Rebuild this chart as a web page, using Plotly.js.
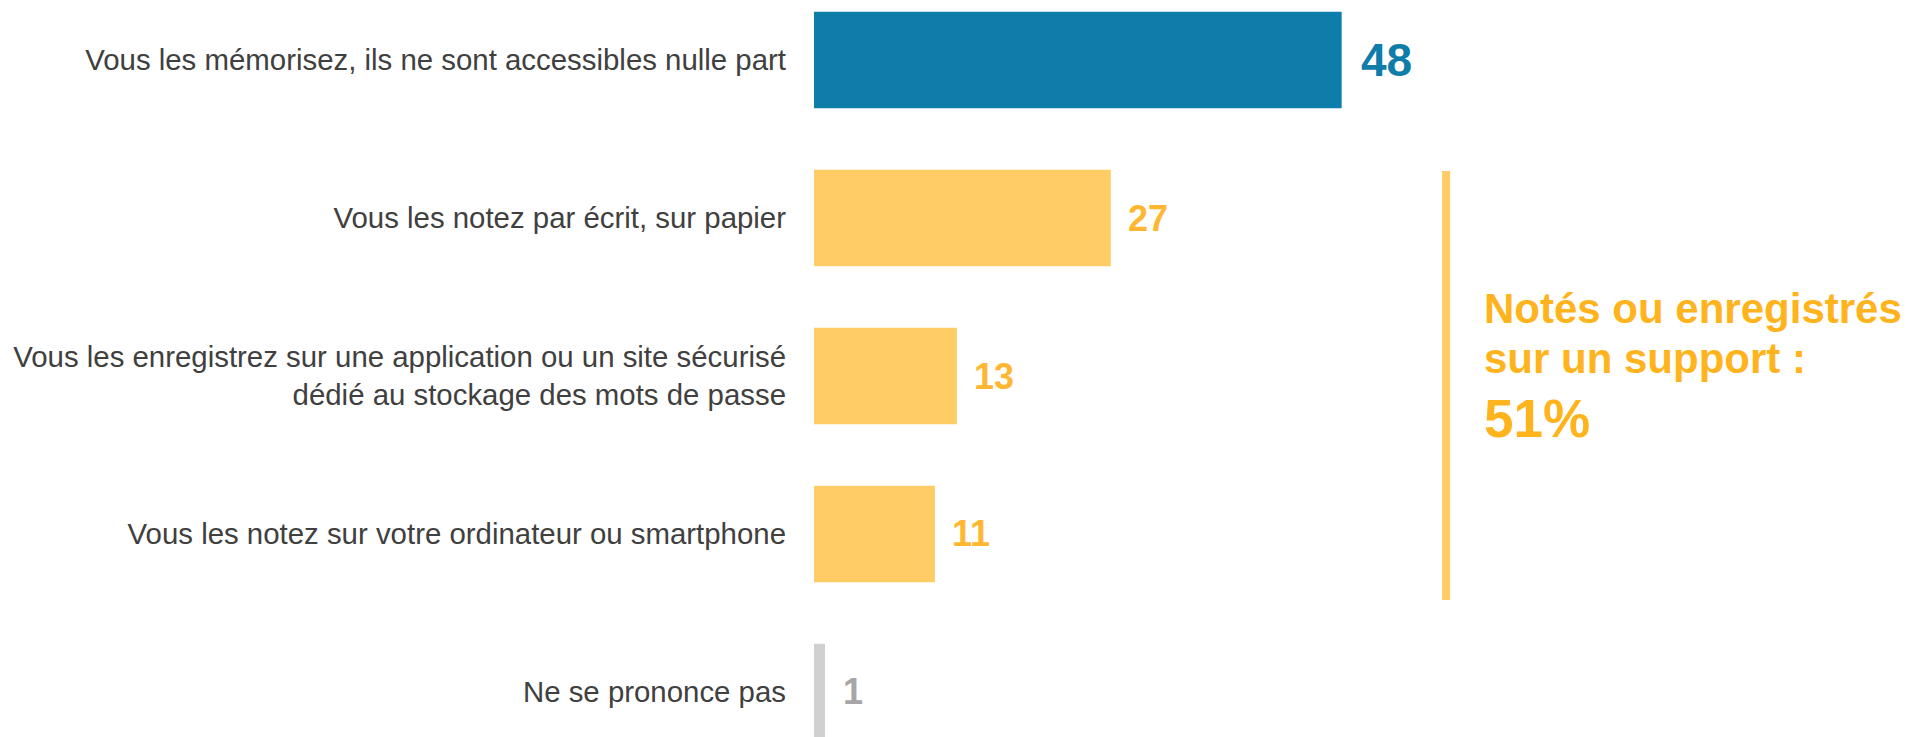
<!DOCTYPE html>
<html>
<head>
<meta charset="utf-8">
<script src="https://cdn.plot.ly/plotly-3.0.1.min.js"></script>
<style>
  html, body { margin: 0; padding: 0; background: #ffffff; }
  #chart { width: 1910px; height: 737px; }
</style>
</head>
<body>
<div id="chart"></div>
<script>
// ---- Data ----
const categories = [
  "Vous les mémorisez, ils ne sont accessibles nulle part",
  "Vous les notez par écrit, sur papier",
  "Vous les enregistrez sur une application ou un site sécurisé<br>dédié au stockage des mots de passe",
  "Vous les notez sur votre ordinateur ou smartphone",
  "Ne se prononce pas"
];
const values = [48, 27, 13, 11, 1];
const valueLabels = ["48", "27", "13", "11", "1"];
const summaryLines = ["Notés ou enregistrés", "sur un support :", "51%"];

// ---- Styles (kept apart from the data) ----
const barColors = ["#0E7DAA", "#FFCC66", "#FFCC66", "#FFCC66", "#D0D0D0"];
const labelColors = ["#0E7DAA", "#FFB732", "#FFB732", "#FFB732", "#A6A6A6"];
const labelSizes = [46, 36, 36, 36, 36];
const labelShifts = [17, 15, 15, 15, 16];
const FONT = "'Liberation Sans', Arial, Helvetica, sans-serif";
const ORANGE = "#FFB31C";

const trace = {
  type: "bar",
  orientation: "h",
  y: categories,
  x: values,
  width: 0.61,
  marker: { color: barColors, line: { width: 0 } },
  hoverinfo: "skip",
  cliponaxis: true
};

const valueAnnotations = values.map((v, i) => ({
  x: v, y: categories[i], xref: "x", yref: "y",
  text: "<b>" + valueLabels[i] + "</b>",
  showarrow: false, xanchor: "left", yanchor: "middle", xshift: labelShifts[i],
  font: { family: FONT, size: labelSizes[i], color: labelColors[i] }
}));

const summaryY = [0.5815, 0.5137, 0.4324];
const summarySizes = [42, 42, 53];
const summaryAnnotations = summaryLines.map((t, i) => ({
  x: 0.6095, y: summaryY[i], xref: "paper", yref: "paper",
  text: "<b>" + t + "</b>",
  showarrow: false, xanchor: "left", yanchor: "middle",
  font: { family: FONT, size: summarySizes[i], color: ORANGE }
}));

const layout = {
  width: 1910, height: 737,
  margin: { l: 814, r: 0, t: 0, b: 0, pad: 0 },
  paper_bgcolor: "#ffffff", plot_bgcolor: "#ffffff",
  showlegend: false,
  xaxis: { range: [0, 99.7], visible: false, fixedrange: true },
  yaxis: {
    type: "category",
    range: [4.285, -0.38],
    showgrid: false, zeroline: false, showline: false,
    ticks: "", ticklabelstandoff: 27,
    tickfont: { family: FONT, size: 29.4, color: "#404040" },
    fixedrange: true
  },
  shapes: [{
    type: "line", xref: "x", yref: "y",
    x0: 57.5, x1: 57.5, y0: 0.703, y1: 3.418,
    line: { color: "#FFCC66", width: 8 }
  }],
  annotations: valueAnnotations.concat(summaryAnnotations)
};

Plotly.newPlot("chart", [trace], layout, { displayModeBar: false, staticPlot: true });
</script>
</body>
</html>
